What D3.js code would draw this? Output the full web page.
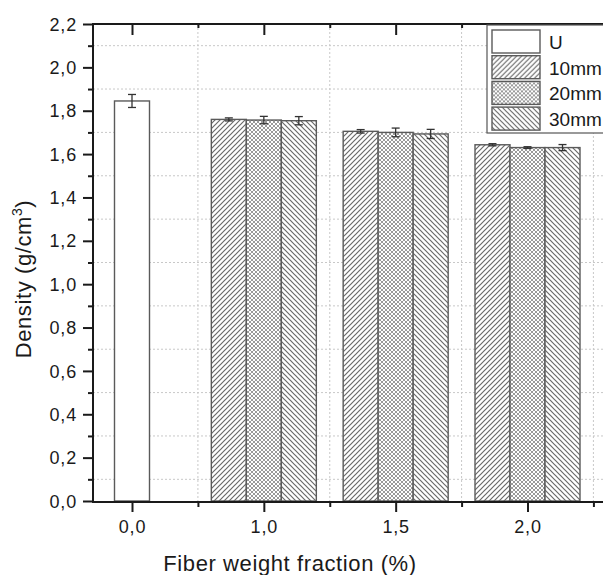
<!DOCTYPE html>
<html>
<head>
<meta charset="utf-8">
<script src="https://cdn.jsdelivr.net/npm/d3@7"></script>
<style>
  body { margin: 0; background: #fff; }
  svg { display: block; font-family: Arial, 'Liberation Sans', sans-serif; }
</style>
</head>
<body>
<div id="chart"></div>
<script>
// categories on the x axis (fiber weight fraction, %)
const categories = ['0,0', '1,0', '1,5', '2,0']
const seriesNames = ['U', '10mm', '20mm', '30mm']

// unreinforced sample (only at 0,0)
const meanU = [1.845]
const errU = [0.03]

// fiber length series at 1,0 / 1,5 / 2,0
const mean10 = [1.760, 1.705, 1.643]
const err10 = [0.007, 0.008, 0.005]
const mean20 = [1.757, 1.700, 1.630]
const err20 = [0.017, 0.020, 0.004]
const mean30 = [1.754, 1.693, 1.630]
const err30 = [0.019, 0.021, 0.014]

const yTicks = [0, 0.2, 0.4, 0.6, 0.8, 1.0, 1.2, 1.4, 1.6, 1.8, 2.0, 2.2]
const yMinor = [0.1, 0.3, 0.5, 0.7, 0.9, 1.1, 1.3, 1.5, 1.7, 1.9, 2.1]
const xMinor = [1.5, 2.5, 3.5, 4.5]

const width = 603
const height = 575
const plotLeft = 93
const plotTop = 24
const plotBottom = 502
const plotRight = 620

const svg = d3.select('#chart').append('svg').attr('width', width).attr('height', height)

const x = d3.scaleLinear().domain([1, 4]).range([132, 527.5])
const y = d3.scaleLinear().domain([0, 2.2]).range([501, plotTop])
const comma = d3.formatLocale({ decimal: ',', thousands: '.', grouping: [3], currency: ['', ''] }).format('.1f')
const barW = 35

// hatch patterns
const defs = svg.append('defs')
function hatch (id, size, dirs, stroke, sw) {
  const p = defs.append('pattern').attr('id', id).attr('patternUnits', 'userSpaceOnUse')
    .attr('width', size).attr('height', size)
  p.append('rect').attr('width', size).attr('height', size).attr('fill', '#fff')
  dirs.forEach(d => {
    const path = d === '/'
      ? `M0,${size} L${size},0 M${-size / 2},${size / 2} L${size / 2},${-size / 2} M${size / 2},${size * 1.5} L${size * 1.5},${size / 2}`
      : `M0,0 L${size},${size} M${-size / 2},${size / 2} L${size / 2},${size * 1.5} M${size / 2},${-size / 2} L${size * 1.5},${size / 2}`
    p.append('path').attr('d', path).attr('stroke', stroke).attr('stroke-width', sw).attr('fill', 'none')
  })
}
hatch('p10', 5, ['/'], '#6a6a6a', 1.2)
hatch('p20', 4, ['/', '\\'], '#808080', 0.8)
hatch('p30', 5, ['\\'], '#6a6a6a', 1.2)
const fills = { U: '#fff', '10mm': 'url(#p10)', '20mm': 'url(#p20)', '30mm': 'url(#p30)' }

// grid lines (dotted, at minor ticks)
const grid = svg.append('g')
grid.selectAll('line.h').data(yMinor).enter().append('line')
  .attr('x1', plotLeft).attr('x2', plotRight).attr('y1', d => y(d)).attr('y2', d => y(d))
  .attr('stroke', '#c8c8c8').attr('stroke-width', 1).attr('stroke-dasharray', '2,2')
grid.selectAll('line.v').data(xMinor).enter().append('line')
  .attr('x1', d => x(d)).attr('x2', d => x(d)).attr('y1', plotTop).attr('y2', plotBottom)
  .attr('stroke', '#c8c8c8').attr('stroke-width', 1).attr('stroke-dasharray', '2,2')

// bar records
const bars = []
meanU.forEach((m, i) => bars.push({ s: 'U', pos: 1, off: 0, m, e: errU[i] }))
;[[mean10, err10, '10mm', -1], [mean20, err20, '20mm', 0], [mean30, err30, '30mm', 1]].forEach(([ms, es, s, off]) => {
  ms.forEach((m, i) => bars.push({ s, pos: i + 2, off, m, e: es[i] }))
})

const barG = svg.append('g')
barG.selectAll('rect').data(bars).enter().append('rect')
  .attr('x', d => x(d.pos) + d.off * barW - barW / 2)
  .attr('y', d => y(d.m))
  .attr('width', barW)
  .attr('height', d => y(0) - y(d.m))
  .attr('fill', d => fills[d.s])
  .attr('stroke', '#5a5a5a')
  .attr('stroke-width', 1.4)

// error bars
const errG = svg.append('g').attr('stroke', '#333').attr('stroke-width', 1.3)
bars.forEach(d => {
  const cx = x(d.pos) + d.off * barW
  errG.append('line').attr('x1', cx).attr('x2', cx).attr('y1', y(d.m + d.e)).attr('y2', y(d.m - d.e))
  errG.append('line').attr('x1', cx - 4).attr('x2', cx + 4).attr('y1', y(d.m + d.e)).attr('y2', y(d.m + d.e))
  errG.append('line').attr('x1', cx - 4).attr('x2', cx + 4).attr('y1', y(d.m - d.e)).attr('y2', y(d.m - d.e))
})

// axes
const axisColor = '#1a1a1a'
function styleAxis (g) {
  g.selectAll('path.domain').remove()
  g.selectAll('line').attr('stroke', axisColor).attr('stroke-width', 2)
  g.selectAll('text').attr('fill', '#1a1a1a').attr('font-size', 18).attr('letter-spacing', 0.8)
}

// y axis
svg.append('g').attr('transform', `translate(${plotLeft},0)`)
  .call(d3.axisLeft(y).tickValues(yMinor).tickSize(5).tickFormat(''))
  .call(styleAxis)
svg.append('g').attr('transform', `translate(${plotLeft},0)`)
  .call(d3.axisLeft(y).tickValues(yTicks).tickSize(10).tickFormat(comma))
  .call(styleAxis)
  .call(g => g.selectAll('text').attr('x', -16).attr('dy', '0.34em'))

// x axis
svg.append('g').attr('transform', `translate(0,${plotBottom})`)
  .call(d3.axisBottom(x).tickValues(xMinor).tickSize(5).tickFormat(''))
  .call(styleAxis)
svg.append('g').attr('transform', `translate(0,${plotBottom})`)
  .call(d3.axisBottom(x).tickValues([1, 2, 3, 4]).tickSize(10).tickFormat((d, i) => categories[i]))
  .call(styleAxis)
  .call(g => g.selectAll('text').attr('y', 31).attr('dy', 0))

// top mirror ticks (inward)
svg.append('g').attr('transform', `translate(0,${plotTop})`)
  .call(d3.axisBottom(x).tickValues([1, 2, 3, 4]).tickSize(11).tickFormat(''))
  .call(styleAxis)
svg.append('g').attr('transform', `translate(0,${plotTop})`)
  .call(d3.axisBottom(x).tickValues(xMinor).tickSize(4).tickFormat(''))
  .call(styleAxis)

// frame lines
svg.append('line').attr('x1', plotLeft).attr('x2', plotRight).attr('y1', plotBottom).attr('y2', plotBottom)
  .attr('stroke', axisColor).attr('stroke-width', 2)
svg.append('line').attr('x1', plotLeft).attr('x2', plotRight).attr('y1', plotTop).attr('y2', plotTop)
  .attr('stroke', axisColor).attr('stroke-width', 2)
svg.append('line').attr('x1', plotLeft).attr('x2', plotLeft).attr('y1', plotTop - 1).attr('y2', plotBottom + 1)
  .attr('stroke', axisColor).attr('stroke-width', 2)

// axis titles
svg.append('text').attr('x', 290).attr('y', 571).attr('text-anchor', 'middle')
  .attr('font-size', 22).attr('letter-spacing', 0.6).attr('fill', '#1a1a1a')
  .text('Fiber weight fraction (%)')
const yt = svg.append('text').attr('transform', 'translate(31,279) rotate(-90)')
  .attr('text-anchor', 'middle').attr('font-size', 22).attr('letter-spacing', 0.6).attr('fill', '#1a1a1a')
yt.append('tspan').text('Density (g/cm')
yt.append('tspan').attr('font-size', 14).attr('dy', -9).text('3')
yt.append('tspan').attr('dy', 9).text(')')

// legend
const lg = svg.append('g').attr('transform', 'translate(487,25)')
lg.append('rect').attr('width', 140).attr('height', 108).attr('fill', '#fff')
  .attr('stroke', '#555').attr('stroke-width', 1.2)
seriesNames.forEach((s, i) => {
  const row = lg.append('g').attr('transform', `translate(5,${5 + i * 25.7})`)
  row.append('rect').attr('width', 48).attr('height', 23).attr('fill', fills[s])
    .attr('stroke', '#5a5a5a').attr('stroke-width', 1.4)
  row.append('text').attr('x', 57).attr('y', 19).attr('font-size', 19)
    .attr('fill', '#1a1a1a').text(s)
})
</script>
</body>
</html>
